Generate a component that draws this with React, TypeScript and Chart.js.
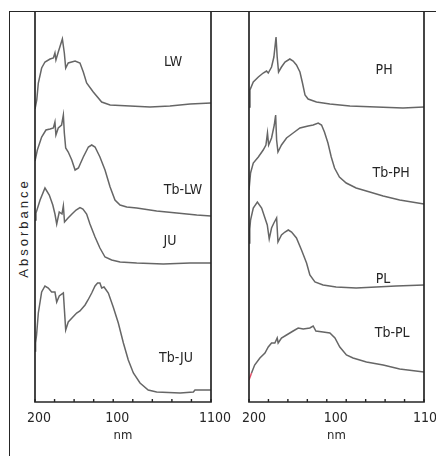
import { useEffect, useRef } from "react";
import { Chart, registerables } from "chart.js";

Chart.register(...registerables);

// ---------- data (wavelength in nm, absorbance in arbitrary stacked units) ----------
const lwNm = [200, 209, 217, 234, 251, 277, 294, 302, 307, 319, 340, 350, 357, 370, 405, 430, 447, 464, 498, 541, 584, 686, 788, 890, 993, 1100];
const lwAbs = [292, 301, 318, 333, 339, 342, 343, 348, 341, 349, 362, 348, 333, 338, 340, 338, 329, 318, 309, 299, 296, 295, 294, 295, 297, 298];

const tbLwNm = [200, 212, 234, 256, 277, 294, 302, 307, 319, 336, 345, 350, 357, 370, 388, 405, 422, 447, 473, 490, 507, 532, 558, 584, 609, 635, 669, 720, 822, 925, 1027, 1100];
const tbLwAbs = [240, 251, 264, 271, 272, 273, 279, 266, 273, 276, 286, 268, 253, 249, 241, 231, 233, 244, 254, 256, 254, 244, 231, 214, 201, 196, 194, 193, 190, 188, 186, 185];

const juNm = [200, 205, 226, 251, 273, 291, 302, 311, 324, 338, 345, 351, 369, 389, 410, 430, 445, 464, 481, 507, 532, 558, 592, 635, 720, 856, 993, 1100];
const juAbs = [181, 188, 201, 213, 206, 196, 187, 177, 189, 187, 195, 179, 183, 187, 191, 193.5, 192, 187, 177, 164, 153, 144, 141, 139, 138, 137, 138, 138];

const tbJuNm = [200, 203, 208, 217, 234, 251, 268, 285, 302, 311, 324, 345, 357, 370, 389, 413, 430, 456, 471, 490, 507, 520, 532, 541, 553, 575, 600, 626, 652, 677, 703, 737, 779, 822, 942, 1010, 1018, 1100];
const tbJuAbs = [50, 58, 66, 88, 109, 115, 113, 109, 109, 99, 105, 108, 71, 79, 83, 88, 90, 96, 101, 108, 115, 118, 118, 113, 114, 108, 94, 78, 58, 41, 28, 18, 11, 9, 8, 9, 11, 11];

const phNm = [200, 205, 222, 248, 273, 290, 299, 316, 328, 339, 345, 352, 367, 385, 410, 427, 444, 462, 475, 488, 504, 547, 616, 719, 855, 992, 1100];
const phAbs = [294, 311, 319, 324, 328, 330, 328, 334, 344, 364, 344, 329, 334, 339, 342, 340, 336, 329, 318, 306, 302, 299, 297, 295, 294, 293, 294];

const tbPhNm = [200, 208, 222, 248, 273, 287, 295, 301, 316, 330, 337, 342, 349, 367, 393, 427, 462, 504, 530, 556, 573, 588, 606, 623, 640, 665, 700, 751, 821, 890, 975, 1100];
const tbPhAbs = [211, 228, 238, 244, 251, 256, 268, 256, 263, 276, 286, 261, 249, 256, 263, 268, 273, 275, 276, 278, 276, 269, 258, 244, 233, 224, 218, 213, 209, 205, 201, 197];

const plNm = [200, 204, 208, 222, 243, 265, 282, 294, 304, 316, 328, 342, 349, 367, 385, 402, 419, 444, 470, 496, 513, 539, 581, 648, 751, 854, 956, 1100];
const plAbs = [158, 172, 181, 193, 199, 193, 183, 176, 162, 173, 178, 183, 159, 166, 169, 171, 169, 163, 151, 138, 126, 119, 116, 114, 113, 114, 115, 116];

const tbPlNm = [200, 213, 229, 256, 282, 299, 316, 333, 345, 350, 367, 393, 427, 453, 479, 513, 530, 544, 581, 616, 642, 667, 701, 735, 804, 890, 975, 1100];
const tbPlAbs = [21, 28, 36, 43, 48, 54, 58, 58, 63, 58, 63, 66, 70, 73, 72, 73, 75, 70, 69, 68, 63, 54, 46, 43, 39, 36, 32, 29];

// series names and where their labels sit (nm, absorbance)
const leftNames = ["LW", "Tb-LW", "JU", "Tb-JU"];
const leftLabelNm = [906, 957, 890, 921];
const leftLabelAbs = [339, 211, 160, 43];
const rightNames = ["PH", "Tb-PH", "PL", "Tb-PL"];
const rightLabelNm = [895, 931, 889, 936];
const rightLabelAbs = [331, 228, 122, 68];

// x-axis
const tickMarks = [200, 300, 400, 500, 600, 700, 800, 900, 1000, 1100];
const leftTickValues = [200, 600, 1100];
const rightTickValues = [200, 620, 1100];
const tickLabels = ["200", "100", "1100"];

const LINE = "#666666";
const INK = "#262626";
const NARROW = "'Liberation Sans Narrow', 'DejaVu Sans Condensed', 'Liberation Sans', sans-serif";

const pts = (xs: number[], ys: number[]) => xs.map((x, i) => ({ x, y: ys[i] }));

function makeChart(
  canvas: HTMLCanvasElement,
  series: { nm: number[]; abs: number[] }[],
  names: string[],
  labelNm: number[],
  labelAbs: number[],
  tickValues: number[],
  padLeft: number,
  padRight: number,
  labelOffset: number,
  redStart: boolean
) {
  const framePlugin = {
    id: "frameAndLabels",
    afterDatasetsDraw(chart: any) {
      const { ctx, chartArea } = chart;
      const xs = chart.scales.x;
      const ys = chart.scales.y;
      ctx.save();
      // frame
      ctx.strokeStyle = "#262626";
      ctx.lineWidth = 1.7;
      ctx.beginPath();
      ctx.moveTo(chartArea.left, chartArea.top);
      ctx.lineTo(chartArea.left, chartArea.bottom);
      ctx.lineTo(chartArea.right, chartArea.bottom);
      ctx.lineTo(chartArea.right, chartArea.top);
      ctx.stroke();
      // inward tick marks
      ctx.lineWidth = 1.4;
      ctx.beginPath();
      tickMarks.forEach((v) => {
        const px = xs.getPixelForValue(v);
        ctx.moveTo(px, chartArea.bottom);
        ctx.lineTo(px, chartArea.bottom - 3);
      });
      ctx.stroke();
      // series names
      ctx.fillStyle = INK;
      ctx.font = `14px ${NARROW}`;
      ctx.textAlign = "center";
      ctx.textBaseline = "middle";
      names.forEach((n, i) => {
        ctx.fillText(n, xs.getPixelForValue(labelNm[i]), ys.getPixelForValue(labelAbs[i]));
      });
      ctx.restore();
    },
  };

  return new Chart(canvas, {
    type: "line",
    data: {
      datasets: series.map((s, i) => ({
        data: pts(s.nm, s.abs),
        borderColor: LINE,
        borderWidth: 1.5,
        pointRadius: 0,
        tension: 0,
        fill: false,
        segment:
          redStart && i === series.length - 1
            ? { borderColor: (c: any) => (c.p0DataIndex === 0 ? "#e0506a" : LINE) }
            : undefined,
      })),
    },
    options: {
      animation: false,
      responsive: false,
      devicePixelRatio: 1,
      events: [],
      layout: { padding: { left: padLeft, right: padRight, top: 11, bottom: 0 } },
      plugins: { legend: { display: false }, tooltip: { enabled: false } },
      scales: {
        x: {
          type: "linear",
          min: 200,
          max: 1100,
          grid: { display: false, drawTicks: false },
          border: { display: false },
          afterBuildTicks: (scale: any) => {
            scale.ticks = tickValues.map((v) => ({ value: v }));
          },
          afterFit: (scale: any) => {
            scale.height = 54;
            scale.paddingLeft = 0;
            scale.paddingRight = 0;
          },
          ticks: {
            autoSkip: false,
            maxRotation: 0,
            padding: 8,
            labelOffset,
            color: INK,
            font: { family: NARROW, size: 14 },
            callback: (_v: any, i: number) => tickLabels[i],
          },
          title: {
            display: true,
            text: "nm",
            color: INK,
            font: { family: NARROW, size: 13 },
            padding: { top: 0, bottom: 13 },
          },
        },
        y: { type: "linear", min: -1, max: 390, display: false },
      },
    },
    plugins: [framePlugin],
  } as any);
}

export default function App() {
  const leftRef = useRef<HTMLCanvasElement>(null);
  const rightRef = useRef<HTMLCanvasElement>(null);

  useEffect(() => {
    const left = makeChart(
      leftRef.current!,
      [
        { nm: lwNm, abs: lwAbs },
        { nm: tbLwNm, abs: tbLwAbs },
        { nm: juNm, abs: juAbs },
        { nm: tbJuNm, abs: tbJuAbs },
      ],
      leftNames,
      leftLabelNm,
      leftLabelAbs,
      leftTickValues,
      35,
      436 - 211,
      4,
      false
    );
    const right = makeChart(
      rightRef.current!,
      [
        { nm: phNm, abs: phAbs },
        { nm: tbPhNm, abs: tbPhAbs },
        { nm: plNm, abs: plAbs },
        { nm: tbPlNm, abs: tbPlAbs },
      ],
      rightNames,
      rightLabelNm,
      rightLabelAbs,
      rightTickValues,
      249,
      12,
      5,
      true
    );
    return () => {
      left.destroy();
      right.destroy();
    };
  }, []);

  const canvasStyle: React.CSSProperties = { position: "absolute", left: 0, top: 0, width: 436, height: 456 };

  return (
    <div style={{ position: "fixed", left: 0, top: 0, width: 436, height: 456, background: "#fff", overflow: "hidden" }}>
      <div
        style={{
          position: "absolute",
          left: 9,
          top: 11,
          width: 460,
          height: 480,
          borderLeft: "1.7px solid #262626",
          borderTop: "1.7px solid #262626",
        }}
      />
      <div
        style={{
          position: "absolute",
          left: 22.5,
          top: 227.5,
          transform: "translate(-50%, -50%) rotate(-90deg)",
          whiteSpace: "nowrap",
          font: "13px 'Liberation Sans', Arial, sans-serif",
          letterSpacing: "3px",
          color: INK,
          lineHeight: "13px",
        }}
      >
        Absorbance
      </div>
      <canvas ref={leftRef} width={436} height={456} style={canvasStyle} />
      <canvas ref={rightRef} width={436} height={456} style={canvasStyle} />
    </div>
  );
}
